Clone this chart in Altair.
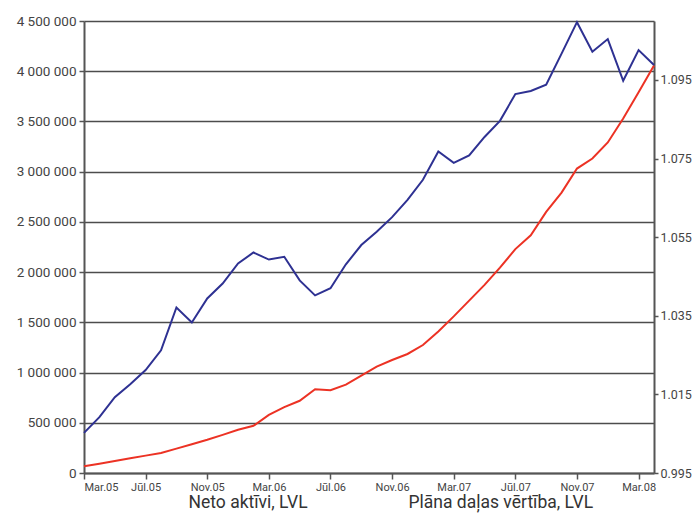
import altair as alt
import pandas as pd

# Month index: 0 = Mar.05 ... 37 = Apr.08
month_index = list(range(38))

# Neto aktīvi, LVL (left axis)
neto_aktivi = [67000, 93000, 120000, 147000, 173000, 199000, 243000, 287000,
               331000, 380000, 431000, 470000, 579000, 656000, 719000, 834000,
               824000, 880000, 970000, 1060000, 1125000, 1185000, 1274000,
               1409000, 1559000, 1716000, 1873000, 2044000, 2229000, 2367000,
               2600000, 2791000, 3031000, 3131000, 3291000, 3529000, 3791000,
               4057000]

# Plāna daļas vērtība, LVL (right axis)
plana_vertiba = [1.0052, 1.0092, 1.0143, 1.0176, 1.0212, 1.0262, 1.0371, 1.0333,
                 1.0394, 1.0432, 1.0483, 1.0511, 1.0493, 1.0500, 1.0440, 1.0402,
                 1.0420, 1.0481, 1.0530, 1.0564, 1.0601, 1.0645, 1.0696, 1.0768,
                 1.0739, 1.0758, 1.0805, 1.0846, 1.0914, 1.0922, 1.0938, 1.1017,
                 1.1097, 1.1022, 1.1054, 1.0948, 1.1026, 1.0988]

tick_positions = [0, 4, 8, 12, 16, 20, 24, 28, 32, 36]
tick_labels = ["Mar.05", "Jūl.05", "Nov.05", "Mar.06", "Jūl.06", "Nov.06",
               "Mar.07", "Jūl.07", "Nov.07", "Mar.08"]

left_ticks = [0, 500000, 1000000, 1500000, 2000000, 2500000, 3000000,
              3500000, 4000000, 4500000]
right_ticks = [0.995, 1.015, 1.035, 1.055, 1.075, 1.095]

series_names = ["Neto aktīvi, LVL", "Plāna daļas vērtība, LVL"]
series_colors = ["#ec3224", "#2e3192"]

df = pd.DataFrame({"m": month_index, "neto": neto_aktivi, "vert": plana_vertiba})

font = "Roboto"
label_js = "[" + ",".join("'" + s + "'" for s in tick_labels) + "]"

x_enc = alt.X(
    "m:Q",
    scale=alt.Scale(domain=[0, 37], nice=False, zero=False),
    axis=alt.Axis(
        values=tick_positions,
        labelExpr=label_js + "[round(datum.value/4)]",
        title=None, grid=False,
        domainColor="#555555", domainWidth=2,
        tickColor="#555555", tickWidth=1.5, tickSize=6,
        labelFont=font, labelFontSize=11, labelColor="#444444",
        labelPadding=2,
    ),
)

color_scale = alt.Scale(domain=series_names, range=series_colors)

red = alt.Chart(df).mark_line(strokeWidth=2, color=series_colors[0]).encode(
    x=x_enc,
    y=alt.Y(
        "neto:Q",
        scale=alt.Scale(domain=[0, 4500000], nice=False),
        axis=alt.Axis(
            orient="left", values=left_ticks,
            labelExpr="replace(format(datum.value, ','), /,/g, ' ')",
            title=None, grid=True, gridColor="#4d4d4d", gridWidth=1.3,
            domainColor="#555555", domainWidth=2,
            tickColor="#555555", tickWidth=1.5, tickSize=5,
            labelFont=font, labelFontSize=13.5, labelColor="#444444",
            labelPadding=3,
        ),
    ),
    color=alt.Color(
        "s:N", scale=color_scale,
        legend=alt.Legend(
            title=None, orient="none", direction="horizontal",
            legendX=79, legendY=473,
            symbolType="square", symbolSize=230, symbolStrokeWidth=0,
            labelFont=font, labelFontSize=17.5, labelColor="#333333",
            labelOffset=8, columnPadding=75, labelLimit=400,
        ),
    ),
).transform_calculate(s="'" + series_names[0] + "'")

blue = alt.Chart(df).mark_line(strokeWidth=2, color=series_colors[1]).encode(
    x=x_enc,
    y=alt.Y(
        "vert:Q",
        scale=alt.Scale(domain=[0.995, 1.11], nice=False, zero=False),
        axis=alt.Axis(
            orient="right", values=right_ticks, format=".3f",
            title=None, grid=False,
            domainColor="#555555", domainWidth=2,
            tickColor="#555555", tickWidth=1.5, tickSize=4,
            labelFont=font, labelFontSize=12.5, labelColor="#444444",
            labelPadding=2,
        ),
    ),
    color=alt.Color("s:N", scale=color_scale),
).transform_calculate(s="'" + series_names[1] + "'")

chart = (
    alt.layer(red, blue)
    .resolve_scale(y="independent")
    .properties(
        width=570, height=452,
        autosize=alt.AutoSizeParams(type="none"),
        padding={"left": 76, "top": 13, "right": 38, "bottom": 40},
        background="white",
    )
    .configure_view(stroke=None)
)

chart.save("out.html", embed_options={"renderer": "svg", "actions": False})
